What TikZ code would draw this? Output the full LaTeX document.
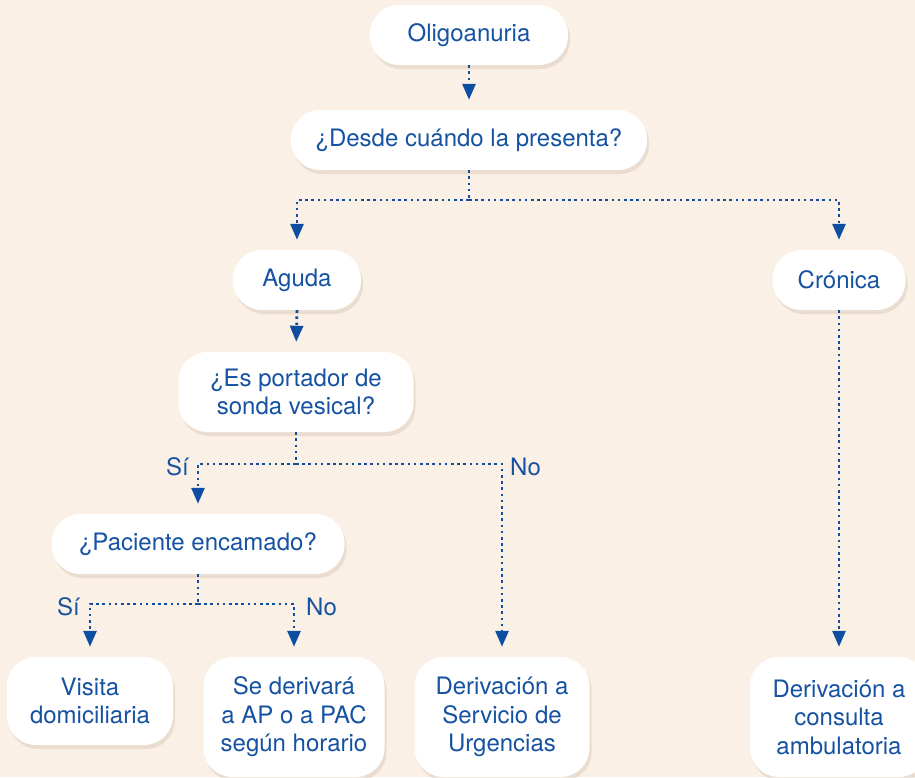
\documentclass[tikz,border=0pt]{standalone}
\usepackage{fontspec}
\setmainfont{TeX Gyre Heros}
\usetikzlibrary{arrows.meta,shadows}
\definecolor{bg}{RGB}{251,240,229}
\definecolor{ink}{RGB}{22,82,162}
\definecolor{arr}{RGB}{14,78,160}
\definecolor{shade}{RGB}{205,185,165}
\tikzset{
  box/.style={fill=white, rounded corners=29pt, inner sep=0pt, align=center,
    text=ink, font=\fontsize{24}{28.5}\selectfont,
    drop shadow={shadow xshift=2pt, shadow yshift=-4pt, opacity=0.35, fill=shade}},
  lbl/.style={text=ink, font=\fontsize{24}{28.5}\selectfont, inner sep=0pt},
  link/.style={draw=arr, line width=2.8pt, dash pattern=on 2.6pt off 3.6pt},
  arrow/.style={link, -{Triangle[width=13pt,length=16pt]}, shorten >=10pt}
}
\begin{document}
\begin{tikzpicture}[x=1pt,y=-1pt]
\path[fill=bg] (0,0) rectangle (915,777);
\useasboundingbox (0,0) rectangle (915,777);
\node[box, minimum width=198pt, minimum height=60pt] (olig) at (469,35) {Oligoanuria};
\node[box, minimum width=356pt, minimum height=60pt] (desde) at (469,140) {¿Desde cuándo la presenta?};
\node[box, minimum width=128pt, minimum height=60pt] (aguda) at (297,280) {Aguda};
\node[box, minimum width=133pt, minimum height=60pt] (cron) at (839,280) {Crónica};
\node[box, minimum width=235pt, minimum height=80pt] (es) at (296,392) {¿Es portador de\\sonda vesical?};
\node[box, minimum width=293pt, minimum height=60pt] (pac) at (198,544) {¿Paciente encamado?};
\node[box, minimum width=166pt, minimum height=88pt] (vis) at (90,701) {Visita\\domiciliaria};
\node[box, minimum width=181pt, minimum height=120pt] (ser) at (294,717) {Se derivará\\a AP o a PAC\\según horario};
\node[box, minimum width=175pt, minimum height=120pt] (urg) at (502,717) {Derivación a\\Servicio de\\Urgencias};
\node[box, minimum width=178pt, minimum height=120pt] (amb) at (839,717) {Derivación a\\consulta\\ambulatoria};
\coordinate (j1) at (469,200);
\coordinate (j2) at (296,464);
\coordinate (j3) at (198,604);
\draw[arrow] (olig.south) -- (desde.north);
\draw[link] (desde.south) -- (j1);
\draw[arrow] (j1) -| (aguda.north);
\draw[arrow] (j1) -| (cron.north);
\draw[arrow] (aguda.south) -- (es.north);
\draw[link] (es.south) -- (j2);
\draw[arrow] (j2) -| (pac.north);
\draw[arrow] (j2) -| (urg.north);
\draw[link] (pac.south) -- (j3);
\draw[arrow] (j3) -| (vis.north);
\draw[arrow] (j3) -| (ser.north);
\draw[arrow] (cron.south) -- (amb.north);
\node[lbl, anchor=east] (si1) at (189,467) {Sí};
\node[lbl, anchor=west] (no1) at (510,467) {No};
\node[lbl, anchor=east] (si2) at (80,607) {Sí};
\node[lbl, anchor=west] (no2) at (306,607) {No};
\end{tikzpicture}
\end{document}
